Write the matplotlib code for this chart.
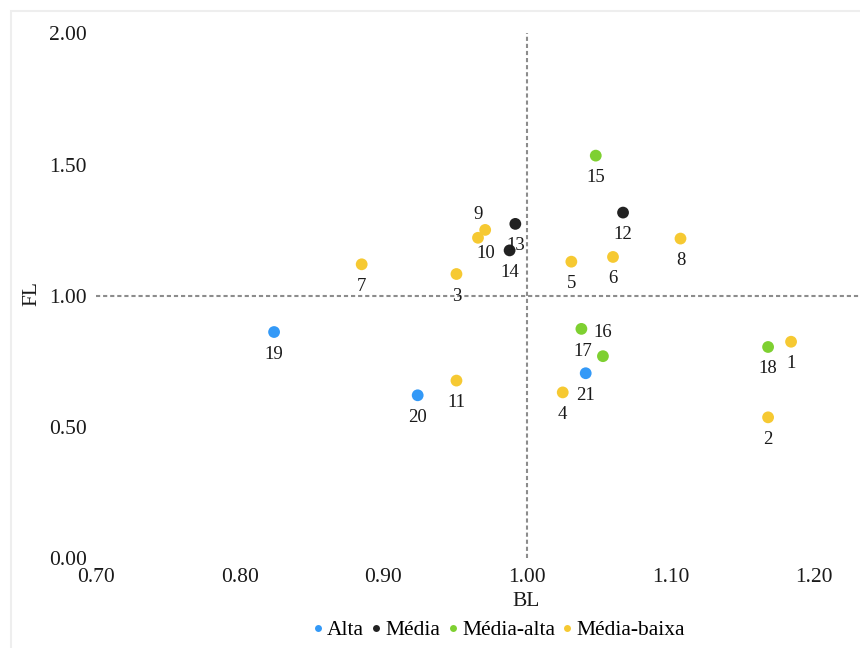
import matplotlib.pyplot as plt
from matplotlib.lines import Line2D
from matplotlib.patches import Rectangle

plt.rcParams['font.family'] = ['Liberation Serif', 'DejaVu Serif']

# data
ids = [str(i) for i in range(1, 22)]
bl = [1.184, 1.168, 0.951, 1.025, 1.031, 1.060, 0.885, 1.107, 0.971, 0.966, 0.951,
      1.067, 0.992, 0.988, 1.048, 1.038, 1.053, 1.168, 0.824, 0.924, 1.041]
fl = [0.825, 0.537, 1.083, 0.632, 1.130, 1.148, 1.120, 1.218, 1.251, 1.221, 0.677,
      1.317, 1.274, 1.173, 1.534, 0.874, 0.770, 0.805, 0.862, 0.621, 0.705]
group = ['Média-baixa', 'Média-baixa', 'Média-baixa', 'Média-baixa', 'Média-baixa',
         'Média-baixa', 'Média-baixa', 'Média-baixa', 'Média-baixa', 'Média-baixa',
         'Média-baixa', 'Média', 'Média', 'Média', 'Média-alta', 'Média-alta',
         'Média-alta', 'Média-alta', 'Alta', 'Alta', 'Alta']
groups = ['Alta', 'Média', 'Média-alta', 'Média-baixa']
colors = {'Alta': '#3399f7', 'Média': '#222222', 'Média-alta': '#7ed031', 'Média-baixa': '#f6c932'}

# label offsets in pixels (default is below the point)
offsets = {'9': (-7, 15), '10': (8, -16), '16': (21, -4), '17': (-20, 5)}

fig = plt.figure(figsize=(8.6, 6.48), dpi=100)
fig.patches.append(Rectangle((11 / 860, -0.1), 1.2, (648 - 11) / 648 + 0.1,
                             transform=fig.transFigure, fill=False,
                             edgecolor='#eeeeee', linewidth=1.5))

ax = fig.add_axes([96 / 860, 1 - 558.3 / 648, 1 - 96 / 860, (558.3 - 33.3) / 648])
ax.set_xlim(0.70, 1.232)
ax.set_ylim(0, 2.0)

ax.axvline(1.0, color='#8c8c8c', linestyle=(0, (2, 1.4)), linewidth=1.5, zorder=1)
ax.axhline(1.0, color='#8c8c8c', linestyle=(0, (2, 1.4)), linewidth=1.5, zorder=1)

for g in groups:
    xs = [x for x, gg in zip(bl, group) if gg == g]
    ys = [y for y, gg in zip(fl, group) if gg == g]
    ax.scatter(xs, ys, s=72, color=colors[g], edgecolors='none', zorder=3)

for name, x, y in zip(ids, bl, fl):
    dx, dy = offsets.get(name, (0, -22))
    ax.annotate(name, (x, y), xytext=(dx, dy), textcoords='offset pixels',
                ha='center', va='center', fontsize=13.5, color='#1a1a1a', zorder=4)

ax.set_xticks([0.70, 0.80, 0.90, 1.00, 1.10, 1.20])
ax.set_xticklabels(['0.70', '0.80', '0.90', '1.00', '1.10', '1.20'])
ax.set_yticks([0.0, 0.5, 1.0, 1.5, 2.0])
ax.set_yticklabels(['0.00', '0.50', '1.00', '1.50', '2.00'])
ax.tick_params(axis='both', length=0, labelsize=15.5, labelcolor='#1a1a1a')
ax.tick_params(axis='x', pad=7)
ax.tick_params(axis='y', pad=6.5)
for s in ax.spines.values():
    s.set_visible(False)

fig.text(526 / 860, 1 - 601 / 648, 'BL', ha='center', va='center', fontsize=15.5, color='#1a1a1a')
fig.text(32 / 860, 1 - 293 / 648, 'FL', ha='center', va='center', rotation=90, fontsize=15.5, color='#1a1a1a')

handles = [Line2D([], [], marker='o', linestyle='none', markersize=5,
                  markerfacecolor=colors[g], markeredgecolor='none') for g in groups]
fig.legend(handles, groups, loc='center', bbox_to_anchor=(499 / 860, 1 - 630 / 648),
           ncol=4, frameon=False, fontsize=15.5, handlelength=0.45, handletextpad=0.2,
           columnspacing=0.35, borderpad=0)

fig.savefig('out.png', dpi=100)
